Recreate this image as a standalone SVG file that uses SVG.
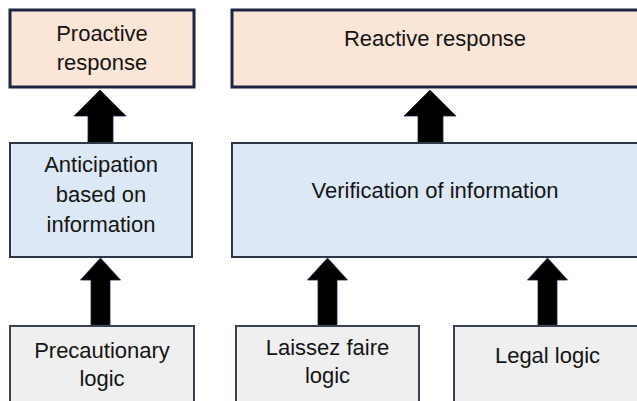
<svg xmlns="http://www.w3.org/2000/svg" width="637" height="401" viewBox="0 0 637 401">
  <style>
    .resp { fill: #fbe5d6; stroke: #1c2541; stroke-width: 3; }
    .info { fill: #dde8f6; stroke: #2e3648; stroke-width: 2; }
    .logic { fill: #efefef; stroke: #3a4150; stroke-width: 2; }
    .arrow { fill: #000; stroke: #1c2541; stroke-width: 0.8; stroke-linejoin: miter; }
    text { font-family: "Liberation Sans", Arial, sans-serif; font-size: 22px; fill: #141414; text-anchor: middle; }
  </style>

  <rect width="637" height="401" fill="#ffffff"/>

  <!-- connectors: block arrows pointing upward -->
  <g id="connectors">
    <path class="arrow" d="M100,90 L126,116 L113,116 L113,143 L88,143 L88,116 L74,116 Z"/>
    <path class="arrow" d="M430,90 L456,116 L443,116 L443,143 L418,143 L418,116 L404,116 Z"/>
    <path class="arrow" d="M100.5,258 L120.5,280 L110,280 L110,325 L91,325 L91,280 L80.5,280 Z"/>
    <path class="arrow" d="M327.5,258 L347.5,280 L337,280 L337,325 L318,325 L318,280 L307.5,280 Z"/>
    <path class="arrow" d="M547.5,258 L567.5,280 L557,280 L557,325 L538,325 L538,280 L527.5,280 Z"/>
  </g>

  <g id="proactive-response">
    <rect class="resp" x="10" y="10" width="184" height="77"/>
    <text x="102" y="41">Proactive</text>
    <text x="102" y="70">response</text>
  </g>

  <g id="reactive-response">
    <rect class="resp" x="232" y="10" width="412" height="77"/>
    <text x="435" y="46">Reactive response</text>
  </g>

  <g id="anticipation">
    <rect class="info" x="10" y="143" width="182" height="114"/>
    <text x="101" y="172">Anticipation</text>
    <text x="101" y="202">based on</text>
    <text x="101" y="232">information</text>
  </g>

  <g id="verification">
    <rect class="info" x="232" y="143" width="412" height="114"/>
    <text x="435" y="198">Verification of information</text>
  </g>

  <g id="precautionary-logic">
    <rect class="logic" x="10" y="326" width="184" height="82"/>
    <text x="102" y="358">Precautionary</text>
    <text x="102" y="386">logic</text>
  </g>

  <g id="laissez-faire-logic">
    <rect class="logic" x="236" y="326" width="183" height="82"/>
    <text x="327.5" y="355">Laissez faire</text>
    <text x="327.5" y="383">logic</text>
  </g>

  <g id="legal-logic">
    <rect class="logic" x="454" y="326" width="190" height="82"/>
    <text x="547.5" y="363">Legal logic</text>
  </g>
</svg>
